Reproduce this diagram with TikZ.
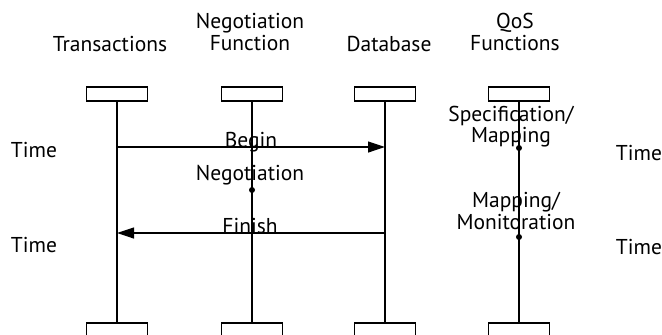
\documentclass[tikz,border=0pt]{standalone}
\usepackage{fontspec}
\setmainfont{PT Sans}
\usetikzlibrary{arrows.meta,positioning}

\tikzset{
    objbox/.style={draw, line width=1.2pt, minimum width=61pt, minimum height=14pt, inner sep=0pt},
    lbl/.style={font=\fontsize{21.5}{22}\selectfont, align=center, inner sep=0pt},
    life/.style={line width=1.2pt},
    msg/.style={line width=1.2pt, -{Triangle[length=17pt,width=11pt]}},
    evt/.style={circle, fill, inner sep=0pt, minimum size=6pt}
}

\begin{document}
\begin{tikzpicture}[x=1pt,y=-1pt]
    \useasboundingbox (0,0) rectangle (662,335);
    % object names
    \node[lbl, anchor=base] (trname) at (110,51) {Transactions};
    \node[lbl, anchor=base] (ngname) at (250,50) {Negotiation\\Function};
    \node[lbl, anchor=base] (dbname) at (389,51) {Database};
    \node[lbl, anchor=base] (qsname) at (515,50) {QoS\\Functions};
    % boxes and lifelines
    \foreach \n/\x in {tr/117,ng/252,db/385,qs/519}{
        \node[objbox] (\n top) at (\x,94) {};
        \node[objbox] (\n bot) at (\x,330) {};
        \draw[life] (\n top.south) -- (\n bot.north);
    }
    % points on the lifelines
    \coordinate (b1) at (117,147);
    \coordinate (b2) at (385,147);
    \coordinate (f1) at (385,233);
    \coordinate (f2) at (117,233);
    \node[evt] (neg) at (252,190) {};
    \node[evt] (spec) at (519,148) {};
    \node[evt] (mon) at (519,237) {};
    % messages
    \draw[msg] (b1) -- (b2);
    \draw[msg] (f1) -- (f2);
    \node[lbl, anchor=base] (begin) at (251,147) {Begin};
    \node[lbl, anchor=base] (finish) at (250,233) {Finish};
    \node[lbl, anchor=base] (negtxt) at (250,180) {Negotiation};
    \node[lbl, anchor=base, font=\fontsize{21.5}{18}\selectfont] (spectxt) at (511,142) {Specification/\\Mapping};
    \node[lbl, anchor=base] (montxt) at (516,229) {Mapping/\\Monitoration};
    % time labels
    \node[lbl, anchor=base] (time1) at (34,157) {Time};
    \node[lbl, anchor=base] (time2) at (34,252) {Time};
    \node[lbl, anchor=base] (time3) at (639,160) {Time};
    \node[lbl, anchor=base] (time4) at (639,254) {Time};
\end{tikzpicture}
\end{document}
